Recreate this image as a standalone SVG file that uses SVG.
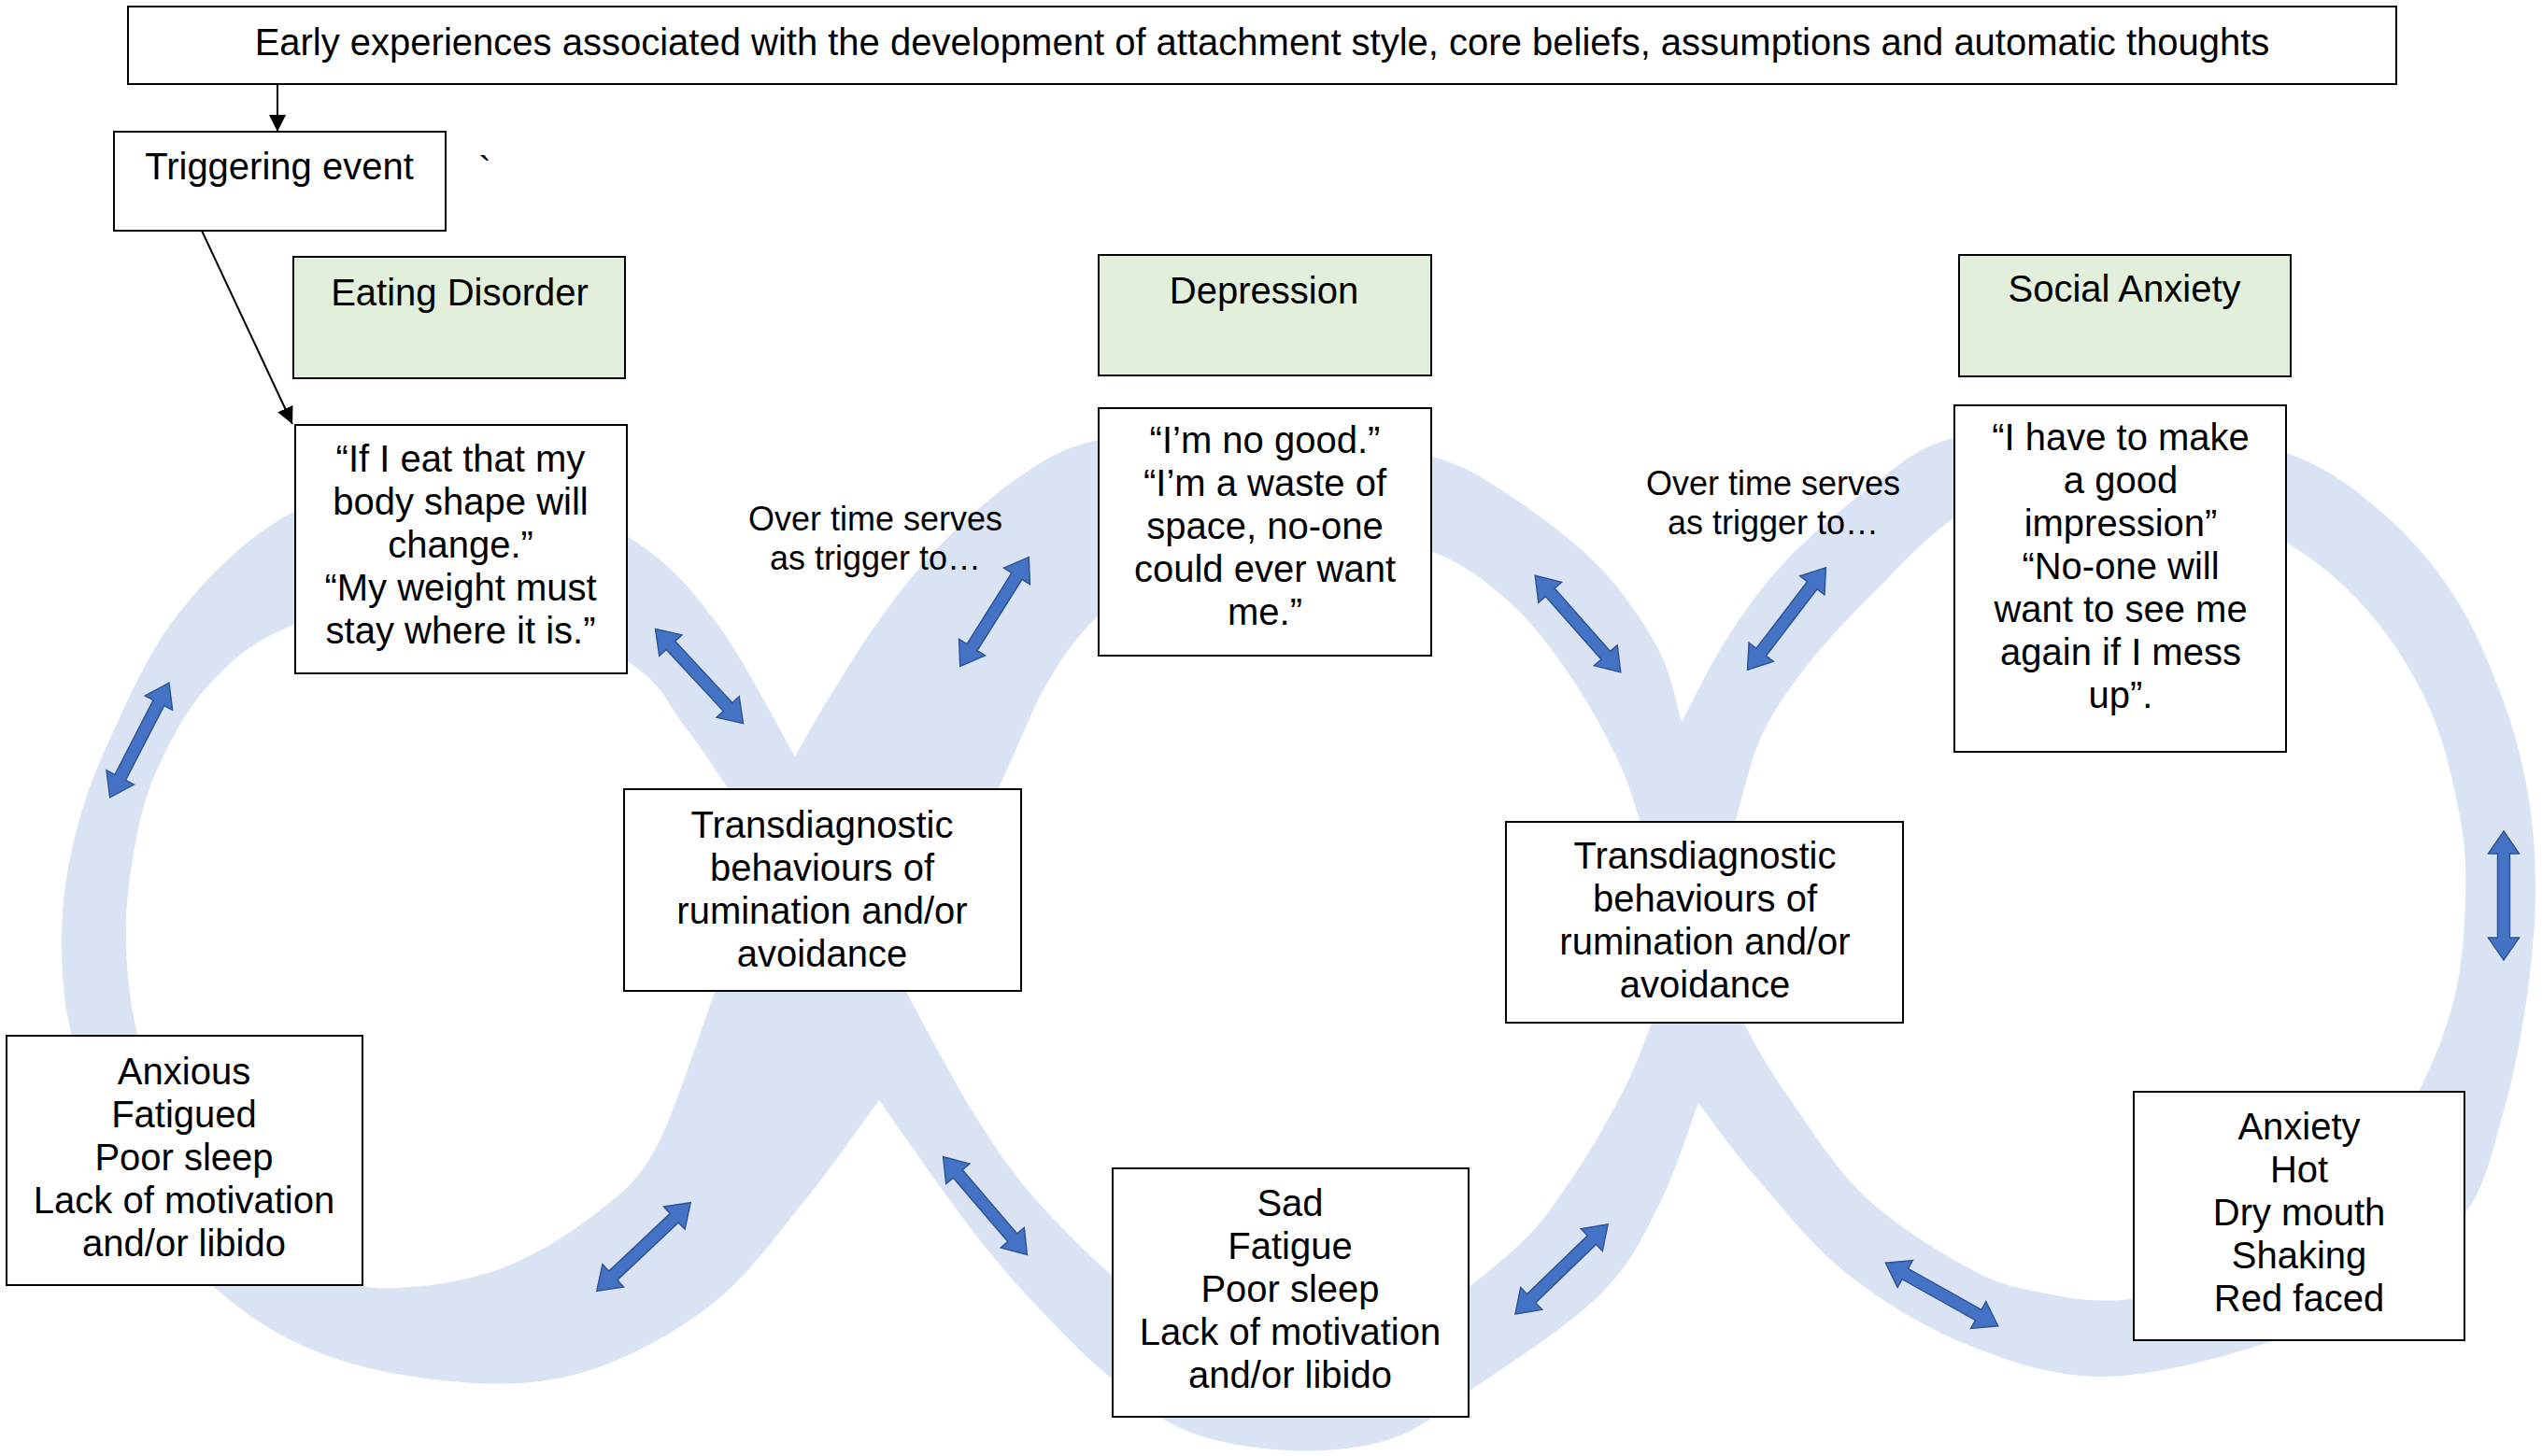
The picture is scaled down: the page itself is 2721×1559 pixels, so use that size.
<svg xmlns="http://www.w3.org/2000/svg" width="2721" height="1559" viewBox="0 0 2721 1559">
<defs>
<style>
text { font-family: "Liberation Sans", Arial, sans-serif; font-size: 40px; fill: #000; text-anchor: middle; }
.small { font-size: 36px; }
.box { fill: #fff; stroke: #000; stroke-width: 2; }
.green { fill: #E2EFDA; stroke: #000; stroke-width: 2; }
.band { fill: #DAE3F3; fill-rule: evenodd; stroke: none; }
.conn { stroke: #000; stroke-width: 2; fill: none; marker-end: url(#ah); }
.dbl { fill: #4472C4; stroke: #2F5597; stroke-width: 1.5; }
</style>
<marker id="ah" viewBox="0 0 10 10" refX="10" refY="5" markerWidth="18" markerHeight="18" markerUnits="userSpaceOnUse" orient="auto"><path d="M0,0 L10,5 L0,10 Z" fill="#000"/></marker>
<path id="dblarrow" d="M-69,0 L-45,-16.5 L-45,-6.5 L45,-6.5 L45,-16.5 L69,0 L45,16.5 L45,6.5 L-45,6.5 L-45,16.5 Z"/>
</defs>
<rect width="2721" height="1559" fill="#fff"/>
<g id="band">
<path class="band" d="M851,810
C836.7,785.7 795,703.3 765,664
C735,624.7 716.7,603 671,574
C625.3,545 550.8,494.2 491,490
C431.2,485.8 362,521.2 312,549
C262,576.8 223.8,615.7 191,657
C158.2,698.3 133.8,755.7 115,797
C96.2,838.3 86.2,869.5 78,905
C69.8,940.5 65.7,974.2 66,1010
C66.3,1045.8 67.7,1077.5 80,1120
C92.3,1162.5 115,1221.8 140,1265
C165,1308.2 194.8,1347.8 230,1379
C265.2,1410.2 304.3,1435 351,1452
C397.7,1469 462.2,1478.8 510,1481
C557.8,1483.2 595.5,1479.5 638,1465
C680.5,1450.5 727.8,1423.8 765,1394
C802.2,1364.2 831.7,1322 861,1286
C890.3,1250 927.7,1196 941,1178
C957.7,1201.3 1011.5,1279.8 1041,1318
C1070.5,1356.2 1093,1380.5 1118,1407
C1143,1433.5 1165.7,1456.2 1191,1477
C1216.3,1497.8 1238.5,1519.3 1270,1532
C1301.5,1544.7 1343.7,1551.5 1380,1553
C1416.3,1554.5 1456,1551.5 1488,1541
C1520,1530.5 1534.8,1515.5 1572,1490
C1609.2,1464.5 1677.2,1421 1711,1388
C1744.8,1355 1757.2,1326.5 1775,1292
C1792.8,1257.5 1810.8,1199.5 1818,1181
C1828.3,1194.3 1853.7,1230.7 1880,1261
C1906.3,1291.3 1938.7,1333.3 1976,1363
C2013.3,1392.7 2058.3,1420.5 2104,1439
C2149.7,1457.5 2196.8,1474 2250,1474
C2303.2,1474 2373.8,1454.7 2423,1439
C2472.2,1423.3 2509,1403.3 2545,1380
C2581,1356.7 2616.8,1329.5 2639,1299
C2661.2,1268.5 2667.3,1233.5 2678,1197
C2688.7,1160.5 2697,1119.5 2703,1080
C2709,1040.5 2713.5,998.3 2714,960
C2714.5,921.7 2712,885.7 2706,850
C2700,814.3 2691.2,781.3 2678,746
C2664.8,710.7 2648.3,670.8 2627,638
C2605.7,605.2 2579.8,574.5 2550,549
C2520.2,523.5 2494.7,502.3 2448,485
C2401.3,467.7 2329.5,447.7 2270,445
C2210.5,442.3 2134.7,457 2091,469
C2047.3,481 2037.8,495.2 2008,517
C1978.2,538.8 1938.5,572.3 1912,600
C1885.5,627.7 1867.7,654.2 1849,683
C1830.3,711.8 1808.2,758 1800,773
C1795.8,760 1789.8,722.8 1775,695
C1760.2,667.2 1737.7,633.5 1711,606
C1684.3,578.5 1645,549.7 1615,530
C1585,510.3 1574.7,502 1531,488
C1487.3,474 1412.3,448.8 1353,446
C1293.7,443.2 1218.5,460.3 1175,471
C1131.5,481.7 1119.7,491.7 1092,510
C1064.3,528.3 1033.3,556.5 1009,581
C984.7,605.5 966.2,629.5 946,657
C925.8,684.5 903.8,720.5 888,746
C872.2,771.5 857.2,799.3 851,810 Z
M824,907
C816.3,896.2 793.2,863.5 778,842
C762.8,820.5 750.8,800.3 733,778
C715.2,755.7 711.5,733.5 671,708
C630.5,682.5 549.8,631.3 490,625
C430.2,618.7 356.5,651.8 312,670
C267.5,688.2 247.3,707.5 223,734
C198.7,760.5 179.5,798 166,829
C152.5,860 147.2,889.8 142,920
C136.8,950.2 134.2,978.8 135,1010
C135.8,1041.2 138.7,1071.2 147,1107
C155.3,1142.8 166.2,1190.3 185,1225
C203.8,1259.7 230.8,1290.8 260,1315
C289.2,1339.2 330,1359.5 360,1370
C390,1380.5 409.7,1380.3 440,1378
C470.3,1375.7 509,1369.2 542,1356
C575,1342.8 611.3,1320.2 638,1299
C664.7,1277.8 680.8,1268.3 702,1229
C723.2,1189.7 744.7,1116.7 765,1063
C785.3,1009.3 814.2,933 824,907 Z
M968,1058
C985.5,1020.8 1047.7,889.2 1073,835
C1098.3,780.8 1103,762.2 1120,733
C1137,703.8 1151.7,682.2 1175,660
C1198.3,637.8 1222.5,615.8 1260,600
C1297.5,584.2 1354.8,566.7 1400,565
C1445.2,563.3 1495.2,576.8 1531,590
C1566.8,603.2 1590.3,622.2 1615,644
C1639.7,665.8 1659.8,693.3 1679,721
C1698.2,748.7 1717.2,783.5 1730,810
C1742.8,836.5 1745.2,846.8 1756,880
C1766.8,913.2 1788.5,987.5 1795,1009
C1790.5,1023.3 1777.8,1068 1768,1095
C1758.2,1122 1750.8,1142.3 1736,1171
C1721.2,1199.7 1699.2,1238.3 1679,1267
C1658.8,1295.7 1648.2,1314.2 1615,1343
C1581.8,1371.8 1519.2,1420.8 1480,1440
C1440.8,1459.2 1413.3,1459.7 1380,1458
C1346.7,1456.3 1311.5,1445.3 1280,1430
C1248.5,1414.7 1220.2,1391 1191,1366
C1161.8,1341 1130,1309.3 1105,1280
C1080,1250.7 1063.8,1227 1041,1190
C1018.2,1153 980.2,1080 968,1058 Z
M1823,1009
C1828.8,987.2 1847.3,915.3 1858,878
C1868.7,840.7 1873.7,813.3 1887,785
C1900.3,756.7 1917.8,733.5 1938,708
C1958.2,682.5 1982.5,657.5 2008,632
C2033.5,606.5 2062.3,575 2091,555
C2119.7,535 2145.2,520.3 2180,512
C2214.8,503.7 2255.3,493.5 2300,505
C2344.7,516.5 2408.5,555.7 2448,581
C2487.5,606.3 2511.5,627.3 2537,657
C2562.5,686.7 2585,722.8 2601,759
C2617,795.2 2626.7,839.7 2633,874
C2639.3,908.3 2640,932.5 2639,965
C2638,997.5 2635.5,1034.7 2627,1069
C2618.5,1103.3 2605.8,1135.8 2588,1171
C2570.2,1206.2 2548,1249.3 2520,1280
C2492,1310.7 2460,1336.5 2420,1355
C2380,1373.5 2320,1386.3 2280,1391
C2240,1395.7 2209.3,1388.8 2180,1383
C2150.7,1377.2 2134.8,1373.2 2104,1356
C2073.2,1338.8 2027,1310.8 1995,1280
C1963,1249.2 1933.2,1201.3 1912,1171
C1890.8,1140.7 1882.8,1125 1868,1098
C1853.2,1071 1830.5,1023.8 1823,1009 Z"/>
</g>
<g id="connectors">
<path class="conn" d="M297,90 L297,141"/>
<path class="conn" d="M216,247 L313,454"/>
<use href="#dblarrow" class="dbl" transform="translate(149.3,792.5) rotate(117.3)"/>
<use href="#dblarrow" class="dbl" transform="translate(748.5,724) rotate(47.1)"/>
<use href="#dblarrow" class="dbl" transform="translate(1064.5,655) rotate(122.2)"/>
<use href="#dblarrow" class="dbl" transform="translate(1689,668) rotate(48.5)"/>
<use href="#dblarrow" class="dbl" transform="translate(1912.5,662.5) rotate(127.4)"/>
<use href="#dblarrow" class="dbl" transform="translate(2680,959) rotate(90)"/>
<use href="#dblarrow" class="dbl" transform="translate(689,1335) rotate(136.7)"/>
<use href="#dblarrow" class="dbl" transform="translate(1054.5,1291) rotate(49.4)"/>
<use href="#dblarrow" class="dbl" transform="translate(1671.5,1359) rotate(135.9)"/>
<use href="#dblarrow" class="dbl" transform="translate(2078.5,1386) rotate(29.3)"/>
</g>
<g id="early-experiences">
<rect class="box" x="137" y="7" width="2428" height="83"/>
<text x="1351" y="59">Early experiences associated with the development of attachment style, core beliefs, assumptions and automatic thoughts</text>
</g>
<g id="triggering-event">
<rect class="box" x="122" y="141" width="355" height="106"/>
<text x="299" y="192">Triggering event</text>
</g>
<g id="backtick">
<text x="519" y="196">`</text>
</g>
<g id="eating-disorder">
<rect class="green" x="314" y="275" width="355" height="130"/>
<text x="492" y="327">Eating Disorder</text>
</g>
<g id="ed-thoughts">
<rect class="box" x="316" y="455" width="355" height="266"/>
<text><tspan x="493" y="505">“If I eat that my</tspan><tspan x="493" y="551">body shape will</tspan><tspan x="493" y="597">change.”</tspan><tspan x="493" y="643">“My weight must</tspan><tspan x="493" y="689">stay where it is.”</tspan></text>
</g>
<g id="over-time-1">
<text class="small"><tspan x="937" y="568">Over time serves</tspan><tspan x="937" y="610">as trigger to…</tspan></text>
</g>
<g id="transdiagnostic-1">
<rect class="box" x="668" y="845" width="425" height="216"/>
<text><tspan x="880" y="897">Transdiagnostic</tspan><tspan x="880" y="943">behaviours of</tspan><tspan x="880" y="989">rumination and/or</tspan><tspan x="880" y="1035">avoidance</tspan></text>
</g>
<g id="ed-symptoms">
<rect class="box" x="7" y="1109" width="381" height="267"/>
<text><tspan x="197" y="1161">Anxious</tspan><tspan x="197" y="1207">Fatigued</tspan><tspan x="197" y="1253">Poor sleep</tspan><tspan x="197" y="1299">Lack of motivation</tspan><tspan x="197" y="1345">and/or libido</tspan></text>
</g>
<g id="depression">
<rect class="green" x="1176" y="273" width="356" height="129"/>
<text x="1353" y="325">Depression</text>
</g>
<g id="dep-thoughts">
<rect class="box" x="1176" y="437" width="356" height="265"/>
<text><tspan x="1354" y="485">“I’m no good.”</tspan><tspan x="1354" y="531">“I’m a waste of</tspan><tspan x="1354" y="577">space, no-one</tspan><tspan x="1354" y="623">could ever want</tspan><tspan x="1354" y="669">me.”</tspan></text>
</g>
<g id="over-time-2">
<text class="small"><tspan x="1898" y="530">Over time serves</tspan><tspan x="1898" y="572">as trigger to…</tspan></text>
</g>
<g id="transdiagnostic-2">
<rect class="box" x="1612" y="880" width="425" height="215"/>
<text><tspan x="1825" y="930">Transdiagnostic</tspan><tspan x="1825" y="976">behaviours of</tspan><tspan x="1825" y="1022">rumination and/or</tspan><tspan x="1825" y="1068">avoidance</tspan></text>
</g>
<g id="dep-symptoms">
<rect class="box" x="1191" y="1251" width="381" height="266"/>
<text><tspan x="1381" y="1302">Sad</tspan><tspan x="1381" y="1348">Fatigue</tspan><tspan x="1381" y="1394">Poor sleep</tspan><tspan x="1381" y="1440">Lack of motivation</tspan><tspan x="1381" y="1486">and/or libido</tspan></text>
</g>
<g id="social-anxiety">
<rect class="green" x="2097" y="273" width="355" height="130"/>
<text x="2274" y="323">Social Anxiety</text>
</g>
<g id="sa-thoughts">
<rect class="box" x="2092" y="434" width="355" height="371"/>
<text><tspan x="2270" y="482">“I have to make</tspan><tspan x="2270" y="528">a good</tspan><tspan x="2270" y="574">impression”</tspan><tspan x="2270" y="620">“No-one will</tspan><tspan x="2270" y="666">want to see me</tspan><tspan x="2270" y="712">again if I mess</tspan><tspan x="2270" y="758">up”.</tspan></text>
</g>
<g id="sa-symptoms">
<rect class="box" x="2284" y="1169" width="354" height="266"/>
<text><tspan x="2461" y="1220">Anxiety</tspan><tspan x="2461" y="1266">Hot</tspan><tspan x="2461" y="1312">Dry mouth</tspan><tspan x="2461" y="1358">Shaking</tspan><tspan x="2461" y="1404">Red faced</tspan></text>
</g>
</svg>
